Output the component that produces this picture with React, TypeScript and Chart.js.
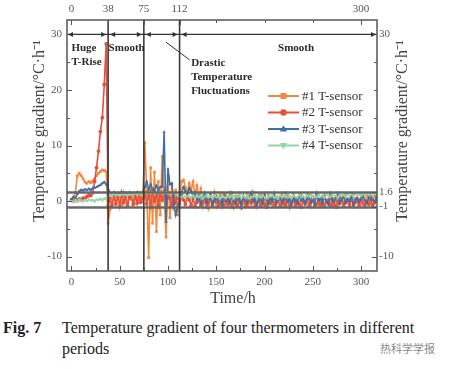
import React, { useEffect, useRef } from "react";
import { Chart, registerables } from "chart.js";
Chart.register(...registerables);

const times = [
  0, 2, 4, 6, 8, 10, 12, 14, 16, 18,
  20, 22, 24, 26, 28, 30, 32, 34, 36, 38,
  40, 42, 44, 46, 48, 50, 52, 54, 56, 58,
  60, 62, 64, 66, 68, 70, 72, 74, 76, 78,
  80, 82, 84, 86, 88, 90, 92, 94, 96, 98,
  100, 102, 104, 106, 108, 110, 112, 114, 116, 118,
  120,
  122, 124, 126, 128, 130, 132, 134, 136, 138, 140,
  142, 144, 146, 148, 150, 152, 154, 156, 158, 160,
  162, 164, 166, 168, 170, 172, 174, 176, 178, 180,
  182, 184, 186, 188, 190, 192, 194, 196, 198, 200,
  202, 204, 206, 208, 210, 212, 214, 216, 218, 220,
  222, 224, 226, 228, 230, 232, 234, 236, 238, 240,
  242, 244, 246, 248, 250, 252, 254, 256, 258, 260,
  262, 264, 266, 268, 270, 272, 274, 276, 278, 280,
  282, 284, 286, 288, 290, 292, 294, 296, 298, 300,
  302, 304, 306, 308, 310, 312, 314, 316,
];

const sensor1 = [
  0.3, 0.5, 1.5, 4.5, 5.0, 4.6, 4.0, 3.4, 3.2, 3.5,
  3.3, 3.6, 4.0, 4.6, 5.0, 5.3, 5.6, 5.5, 5.3, -4.0,
  -1.5, -0.3, 0.8, -0.5, 1.2, 0.4, -0.8, 1.5, 0.2, -0.6,
  1.0, 0.3, -0.4, 1.3, 0.5, -0.2, 0.8, 1.2, 10.5, 2.0,
  -10.2, 6.0, -4.0, 5.2, -5.5, 3.5, -2.5, 8.0, 1.0, -6.5,
  4.5, -3.0, 3.0, -1.5, 2.0, -2.5, 0.5, 3.5, 3.8, 2.5,
  1.5,
  3.2, 2.0, 3.5, 1.0, 2.8, 0.5, 2.2, -0.8, 1.5, 0.3,
  -1.3, 1.2, 0.0, 1.6, -0.9, 0.6, 1.4, -1.1, 0.2, 1.0,
  -0.6, 1.5, 0.4, -1.2, 0.9, 0.1, 1.3, -0.8, 0.5, -1.0,
  1.2, 0.3, -0.7, 1.6, 0.0, -1.1, 0.8, 1.2, -0.5, 0.4,
  -1.0, 1.1, 0.2, -0.6, 1.4, -0.9, 0.6, 0.0, 1.2, -0.8,
  0.3, 1.0, -1.1, 0.5, 1.3, -0.4, 0.1, -0.9, 1.1, 0.2,
  -0.7, 1.2, 0.4, -1.0, 0.8, 0.0, 1.4, -0.6, 0.3, -0.9,
  1.0, 0.2, -0.5, 1.3, -0.8, 0.6, 0.1, -1.0, 0.9, 0.4,
  -0.6, 1.1, 0.0, -0.9, 0.7, 1.2, -0.4, 0.3, -0.8, 1.0,
  0.2, -0.5, 0.8, 1.1, -0.3, 0.4, 0.9, 0.2,
];

const sensor2 = [
  0.2, 0.0, 0.3, 0.1, 0.4, 0.2, 0.5, 0.5, 0.8, 1.0,
  1.0, 1.5, 3.5, 6.0, 9.0, 12.5, 15.0, 21.0, 28.3, -1.0,
  0.5, -0.8, 1.2, -0.5, 0.8, -1.0, 1.5, -0.3, 1.0, -0.8,
  0.6, 1.2, -0.6, 0.9, -0.4, 1.3, -0.2, 0.5, 1.5, -0.5,
  1.0, -1.0, 1.8, 0.0, 1.2, -0.8, 1.5, 0.2, 1.8, -0.5,
  1.0, 0.5, -0.8, 1.2, -0.3, 0.8, -0.5, 1.0, 0.2, -0.6,
  0.8,
  0.2, -0.8, 0.5, -1.0, -0.2, 0.6, -0.9, -0.4, 0.3, -1.1,
  -0.3, 0.4, -0.8, -0.1, 0.7, -1.0, -0.5, 0.2, -0.9, 0.1,
  -0.6, 0.5, -1.0, -0.2, 0.3, -0.8, 0.0, -1.2, 0.4, -0.5,
  -0.9, 0.2, -0.3, 0.6, -1.0, -0.4, 0.1, -0.8, 0.5, -0.6,
  -1.1, 0.0, -0.4, 0.4, -0.9, -0.2, 0.3, -1.0, -0.5, 0.2,
  -0.7, 0.5, -1.0, -0.3, 0.1, -0.8, 0.4, -0.6, -1.1, 0.0,
  -0.4, 0.3, -0.9, -0.1, 0.5, -1.0, -0.5, 0.2, -0.7, 0.4,
  -1.0, -0.2, 0.1, -0.8, 0.3, -0.6, -1.1, 0.0, -0.4, 0.5,
  -0.9, -0.3, 0.2, -0.7, 0.4, -1.0, -0.2, 0.1, -0.8, 0.3,
  -0.5, -1.0, 0.0, -0.6, 0.4, -0.8, -0.3, 0.2,
];

const sensor3 = [
  0.3, 0.8, 0.5, 1.2, 1.8, 2.0, 1.9, 2.1, 2.0, 2.2,
  2.0, 2.3, 2.4, 2.5, 2.7, 2.9, 3.2, 3.4, 3.0, 2.2,
  1.5, 1.3, 1.6, 1.2, 1.5, 1.4, 1.6, 1.3, 1.5, 1.4,
  1.6, 1.3, 1.5, 1.4, 1.6, 1.5, 1.4, 1.7, 2.5, 3.5,
  2.0, 3.0, 2.2, 1.8, 2.8, 2.0, 2.5, 2.5, 12.4, -3.8,
  5.8, 3.0, 3.2, -0.5, -2.5, -1.0, 0.0, 1.5, 2.5, 1.8,
  1.2,
  2.3, 1.8, 0.8, 1.5, 0.2, 1.0, -0.5, 0.6, 1.3, -0.3,
  0.4, 1.1, -0.6, 0.2, 0.9, -0.2, 0.5, -0.7, 1.2, 0.0,
  0.6, -0.4, 1.4, 0.1, -0.5, 0.8, 0.3, -0.6, 1.0, 0.2,
  -0.3, 0.7, 1.5, -0.1, 0.4, -0.7, 0.9, 0.1, -0.4, 1.3,
  0.3, -0.6, 0.6, 0.0, 1.1, -0.5, 0.2, 0.8, -0.3, 0.5,
  1.4, -0.2, 0.3, -0.7, 0.9, 0.1, -0.4, 1.2, 0.0, 0.6,
  -0.5, 0.4, 1.0, -0.3, 0.2, -0.6, 1.3, 0.1, 0.5, -0.4,
  0.8, 0.0, -0.6, 1.1, 0.3, -0.2, 0.6, 1.4, -0.5, 0.2,
  0.9, -0.3, 0.4, 0.0, 1.2, -0.6, 0.3, 0.7, -0.2, 0.5,
  1.0, 0.1, -0.4, 0.6, 1.3, 0.2, -0.1, 0.8,
];

const sensor4 = [
  0.0, -0.2, 0.2, -0.1, 0.3, 0.1, -0.1, 0.2, 0.0, 0.3,
  0.1, 0.2, -0.1, 0.3, 0.2, 0.4, 0.1, 0.5, 0.3, 0.8,
  1.2, 1.0, 1.3, 1.1, 1.2, 1.0, 1.3, 1.1, 1.2, 1.0,
  1.3, 1.1, 1.2, 1.4, 1.1, 1.3, 1.2, 1.4, 1.5, 1.3,
  1.6, 1.4, 1.5, 1.3, 1.6, 1.4, 1.5, 1.7, 1.4, 1.6,
  1.3, 1.5, 1.4, 1.6, 1.2, 1.0, 0.6, 0.8, 1.0, 0.7,
  0.9,
  0.8, 0.6, 1.0, 0.5, 0.9, 0.7, 1.1, 0.4, 0.8, 1.0,
  0.6, 0.9, 0.5, 1.0, 0.7, 0.8, 0.4, 1.1, 0.7, 0.5,
  0.9, 0.6, 1.0, 0.4, 0.8, 0.7, 1.1, 0.5, 0.9, 0.6,
  1.0, 0.5, 0.8, 0.7, 1.1, 0.4, 0.9, 0.6, 1.0, 0.7,
  0.5, 0.9, 0.8, 1.1, 0.6, 0.9, 0.4, 1.0, 0.7, 0.8,
  1.1, 0.6, 0.9, 0.5, 1.0, 0.8, 0.6, 1.2, 0.7, 0.9,
  0.5, 1.0, 0.8, 1.2, 0.6, 0.9, 0.7, 1.1, 0.8, 1.0,
  0.6, 1.2, 0.9, 0.7, 1.3, 0.8, 1.0, 0.6, 1.2, 0.9,
  1.1, 0.7, 1.3, 0.9, 1.2, 0.8, 1.4, 1.0, 1.2, 0.9,
  1.3, 1.0, 1.4, 1.1, 1.3, 0.9, 1.4, 1.2,
];

const seriesNames = ["#1 T-sensor", "#2 T-sensor", "#3 T-sensor", "#4 T-sensor"];
const seriesValues = [sensor1, sensor2, sensor3, sensor4];
const seriesColors = ["#f4883c", "#e5503a", "#3f6ea3", "#94d4a8"];
const seriesMarkers = ["rect", "circle", "triangle", "triangle"];
const seriesRotation = [0, 0, 0, 180];

const bottomTicks = [0, 50, 100, 150, 200, 250, 300];
const bottomMinor = [25, 75, 125, 175, 225, 275];
const topTicks = [0, 38, 75, 112, 300];
const topMinor = [150, 200, 250];
const leftTicks = [-10, 0, 10, 20, 30];
const leftMinor = [-5, 5, 15, 25];
const rightTicks = [-10, -1, 1.6, 30];
const rightMinor = [-5, 5, 10, 15, 20, 25];
const periodBounds = [38, 75, 112];
const bandLines = [1.6, -1];
const xRange = [-4.6, 316.5];
const yRange = [-12.6, 32.6];
const arrowLevel = 30;

const SERIF = "'Liberation Serif', 'Times New Roman', serif";

const decor = {
  id: "decor",
  afterDatasetsDraw(chart: any) {
    const { ctx, chartArea: a, scales } = chart;
    const xs = scales.x, ys = scales.y;
    ctx.save();
    ctx.strokeStyle = "#686868";
    ctx.lineWidth = 2.4;
    bandLines.forEach((v) => {
      const py = Math.round(ys.getPixelForValue(v)) + 0.5;
      ctx.beginPath();
      ctx.moveTo(a.left, py);
      ctx.lineTo(a.right, py);
      ctx.stroke();
    });
    ctx.strokeStyle = "#3c3c3c";
    ctx.lineWidth = 1.6;
    periodBounds.forEach((v) => {
      const px = xs.getPixelForValue(v);
      ctx.beginPath();
      ctx.moveTo(px, a.top);
      ctx.lineTo(px, a.bottom);
      ctx.stroke();
    });
    ctx.restore();
  },
  afterDraw(chart: any) {
    const { ctx, chartArea: a, scales } = chart;
    const xs = scales.x, ys = scales.y;
    ctx.save();
    ctx.strokeStyle = "#555";
    ctx.lineWidth = 1.5;
    ctx.strokeRect(a.left, a.top, a.right - a.left, a.bottom - a.top);
    ctx.lineWidth = 1;
    const vt = (vals: number[], len: number, atTop: boolean) => {
      vals.forEach((v) => {
        const px = Math.round(xs.getPixelForValue(v)) + 0.5;
        ctx.beginPath();
        if (atTop) { ctx.moveTo(px, a.top); ctx.lineTo(px, a.top + len); }
        else { ctx.moveTo(px, a.bottom); ctx.lineTo(px, a.bottom - len); }
        ctx.stroke();
      });
    };
    const ht = (vals: number[], len: number, atLeft: boolean) => {
      vals.forEach((v) => {
        const py = Math.round(ys.getPixelForValue(v)) + 0.5;
        ctx.beginPath();
        if (atLeft) { ctx.moveTo(a.left, py); ctx.lineTo(a.left + len, py); }
        else { ctx.moveTo(a.right, py); ctx.lineTo(a.right - len, py); }
        ctx.stroke();
      });
    };
    vt(bottomTicks, 5, false); vt(bottomMinor, 3, false);
    vt(topTicks, 5, true); vt(topMinor, 3, true);
    ht(leftTicks, 5, true); ht(leftMinor, 3, true);
    ht(rightTicks, 5, false); ht(rightMinor, 3, false);

    const ay = ys.getPixelForValue(arrowLevel);
    ctx.strokeStyle = "#333";
    ctx.fillStyle = "#333";
    ctx.lineWidth = 1.3;
    ctx.beginPath();
    ctx.moveTo(a.left + 1, ay);
    ctx.lineTo(a.right - 1, ay);
    ctx.stroke();
    const head = (tipX: number, dir: number) => {
      ctx.beginPath();
      ctx.moveTo(tipX, ay);
      ctx.lineTo(tipX - dir * 5, ay - 2.5);
      ctx.lineTo(tipX - dir * 5, ay + 2.5);
      ctx.closePath();
      ctx.fill();
    };
    head(a.left + 1, -1);
    head(a.right - 1, 1);
    periodBounds.forEach((v) => {
      const px = xs.getPixelForValue(v);
      head(px - 2, 1);
      head(px + 2, -1);
    });

    ctx.fillStyle = "#2a2a2a";
    ctx.font = `bold 11px ${SERIF}`;
    ctx.textAlign = "left";
    ctx.textBaseline = "middle";
    const tx = (s: string, xv: number, yv: number) =>
      ctx.fillText(s, xs.getPixelForValue(xv), ys.getPixelForValue(yv));
    tx("Huge", 0, 27.5);
    tx("T-Rise", 0, 25.0);
    tx("Smooth", 38.5, 27.5);
    tx("Drastic", 124, 24.8);
    tx("Temperature", 124, 22.3);
    tx("Fluctuations", 124, 19.8);
    tx("Smooth", 214, 27.5);
    ctx.strokeStyle = "#333";
    ctx.lineWidth = 1;
    ctx.beginPath();
    ctx.moveTo(xs.getPixelForValue(98), ys.getPixelForValue(28.6));
    ctx.lineTo(xs.getPixelForValue(122.5), ys.getPixelForValue(25.4));
    ctx.stroke();

    const lx0 = 268, lx1 = 299;
    const ly0 = 96, dy = 16.5;
    ctx.font = `13px ${SERIF}`;
    seriesNames.forEach((name, i) => {
      const yy = ly0 + i * dy;
      const c = seriesColors[i];
      ctx.strokeStyle = c;
      ctx.fillStyle = c;
      ctx.lineWidth = 2;
      ctx.beginPath();
      ctx.moveTo(lx0, yy);
      ctx.lineTo(lx1, yy);
      ctx.stroke();
      const cx = (lx0 + lx1) / 2;
      ctx.beginPath();
      const m = seriesMarkers[i];
      if (m === "rect") ctx.rect(cx - 3, yy - 3, 6, 6);
      else if (m === "circle") ctx.arc(cx, yy, 3.2, 0, Math.PI * 2);
      else if (seriesRotation[i] === 0) {
        ctx.moveTo(cx, yy - 3.8); ctx.lineTo(cx + 3.6, yy + 2.6); ctx.lineTo(cx - 3.6, yy + 2.6); ctx.closePath();
      } else {
        ctx.moveTo(cx, yy + 3.8); ctx.lineTo(cx + 3.6, yy - 2.6); ctx.lineTo(cx - 3.6, yy - 2.6); ctx.closePath();
      }
      ctx.fill();
      ctx.fillStyle = "#333";
      ctx.textAlign = "left";
      ctx.fillText(name, lx1 + 3, yy + 0.5);
    });

    ctx.fillStyle = "#444";
    ctx.font = `16px ${SERIF}`;
    ctx.textAlign = "center";
    ctx.textBaseline = "middle";
    const title = "Temperature gradient/°C·h⁻¹";
    [40, 403].forEach((cx) => {
      ctx.save();
      ctx.translate(cx, 131);
      ctx.rotate(-Math.PI / 2);
      ctx.fillText(title, 0, 0);
      ctx.restore();
    });
    ctx.fillText("Time/h", 233, 299);
    ctx.restore();
  },
};

const tickFont = { family: SERIF, size: 11 };

export default function App() {
  const ref = useRef<HTMLCanvasElement | null>(null);
  useEffect(() => {
    document.body.style.margin = "0";
    if (!ref.current) return;
    const datasets = seriesValues.map((vals, i) => ({
      label: seriesNames[i],
      data: times.map((t, j) => ({ x: t, y: vals[j] })),
      borderColor: seriesColors[i],
      backgroundColor: seriesColors[i],
      borderWidth: 1.6,
      pointRadius: 1.9,
      pointBorderWidth: 0,
      pointStyle: seriesMarkers[i],
      pointRotation: seriesRotation[i],
      tension: 0,
      order: 4 - i,
      xAxisID: "x",
      yAxisID: "y",
    }));
    const mkTicks = (vals: number[]) => (scale: any) => {
      scale.ticks = vals.map((v) => ({ value: v }));
    };
    const chart = new Chart(ref.current, {
      type: "line",
      data: { datasets },
      options: {
        responsive: false,
        animation: false,
        layout: { padding: 0 },
        plugins: { legend: { display: false }, tooltip: { enabled: false } },
        scales: {
          x: {
            type: "linear", position: "bottom", min: xRange[0], max: xRange[1],
            grid: { display: false, drawTicks: false }, border: { display: false },
            afterBuildTicks: mkTicks(bottomTicks),
            afterFit: (s: any) => { s.height = 39; },
            ticks: { font: tickFont, color: "#555", padding: 5, autoSkip: false, maxRotation: 0, callback: (v: any) => String(v) },
          },
          x2: {
            type: "linear", position: "top", min: xRange[0], max: xRange[1],
            grid: { display: false, drawTicks: false }, border: { display: false },
            afterBuildTicks: mkTicks(topTicks),
            afterFit: (s: any) => { s.height = 20; },
            ticks: { font: tickFont, color: "#555", padding: 4, autoSkip: false, maxRotation: 0, callback: (v: any) => String(v) },
          },
          y: {
            type: "linear", position: "left", min: yRange[0], max: yRange[1],
            grid: { display: false, drawTicks: false }, border: { display: false },
            afterBuildTicks: mkTicks(leftTicks),
            afterFit: (s: any) => { s.width = 67; },
            ticks: { font: tickFont, color: "#555", padding: 5, autoSkip: false, callback: (v: any) => String(v) },
          },
          y2: {
            type: "linear", position: "right", min: yRange[0], max: yRange[1],
            grid: { display: false, drawTicks: false }, border: { display: false },
            afterBuildTicks: mkTicks(rightTicks),
            afterFit: (s: any) => { s.width = 73; },
            ticks: { font: tickFont, color: "#555", padding: 2, autoSkip: false, callback: (v: any) => String(v) },
          },
        },
      } as any,
      plugins: [decor],
    });
    return () => chart.destroy();
  }, []);

  const cap: React.CSSProperties = {
    position: "absolute", fontFamily: SERIF, fontSize: 16, lineHeight: "18px", color: "#222", whiteSpace: "nowrap",
  };
  return (
    <div style={{ position: "relative", width: 450, height: 369, background: "#fff", overflow: "hidden" }}>
      <canvas ref={ref} width={450} height={310} style={{ display: "block" }} />
      <div style={{ ...cap, left: 3, top: 319, fontWeight: "bold" }}>Fig. 7</div>
      <div style={{ ...cap, left: 62, top: 319 }}>Temperature gradient of four thermometers in different</div>
      <div style={{ ...cap, left: 62, top: 340 }}>periods</div>
      <div style={{ position: "absolute", left: 380, top: 341, fontFamily: "'Noto Sans CJK SC', sans-serif", fontSize: 11, color: "#888", lineHeight: "14px" }}>热科学学报</div>
    </div>
  );
}
